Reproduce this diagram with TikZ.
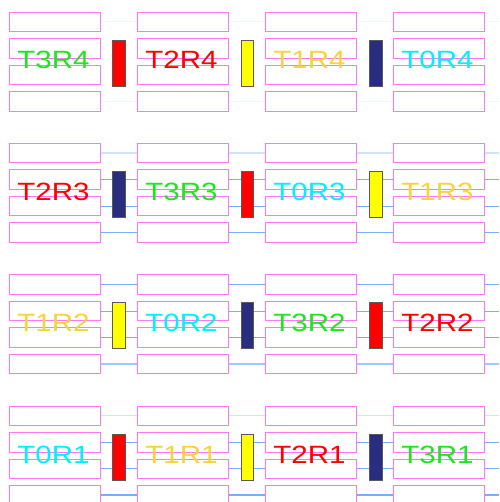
\documentclass[tikz,border=0pt]{standalone}
\usepackage{fontspec}
\setmainfont{Liberation Sans}
\usetikzlibrary{backgrounds}
\definecolor{tcol0}{RGB}{0,240,255}
\definecolor{tcol1}{RGB}{250,210,60}
\definecolor{tcol2}{RGB}{255,0,0}
\definecolor{tcol3}{RGB}{30,230,30}
\definecolor{barred}{RGB}{255,0,0}
\definecolor{baryellow}{RGB}{255,255,0}
\definecolor{barnavy}{RGB}{40,45,128}
\definecolor{slotpink}{RGB}{255,120,250}
\definecolor{linkblue}{RGB}{120,175,250}
\tikzset{
  slot/.style={draw=slotpink, fill=white, line width=0.9pt, minimum width=91pt,
    minimum height=19.5pt, inner sep=0pt},
  bar/.style={draw=black!65, line width=0.6pt, minimum width=12.5pt,
    minimum height=46pt, inner sep=0pt},
  lbl/.style={anchor=base, inner sep=0pt, font=\fontsize{25}{25}\selectfont},
  nolink/.style={draw=none},
  faint/.style={draw=linkblue!12, line width=1pt},
  light/.style={draw=linkblue!35, line width=1.2pt},
  mid/.style={draw=linkblue, line width=0.9pt},
  midlight/.style={draw=linkblue!70, line width=1.1pt},
  thick/.style={draw=linkblue, line width=1.6pt}
}
\begin{document}
\begin{tikzpicture}[x=1pt,y=-1pt]
\useasboundingbox (0,0) rectangle (499,502);

\foreach \r/\y/\order/\bars/\links in {
  4/12/{3,2,1,0}/{barred,baryellow,barnavy}/{faint,nolink,nolink,faint},
  3/143.3/{2,3,0,1}/{barnavy,barred,baryellow}/{light,mid,mid,mid},
  2/274.7/{1,0,3,2}/{baryellow,barnavy,barred}/{mid,mid,mid,midlight},
  1/406/{0,1,2,3}/{barred,baryellow,barnavy}/{light,mid,mid,thick}}
{
  % four slots per column, label on top
  \foreach \t [count=\c] in \order {
    \foreach \k in {1,...,4}
      \node[slot] (r\r-c\c-k\k) at ({54.5+128*(\c-1)}, {\y+9.75+26.5*(\k-1)}) {};
    \node[lbl, text=tcol\t] (t\t-r\r) at ({53.5+128*(\c-1)}, {\y+57})
      {\scalebox{1.18}[1]{T\t R\r}};
  }
  % bars between columns
  \foreach \b [count=\g] in \bars
    \node[bar, fill=\b] (bar\r-\g) at ({119+128.5*(\g-1)}, {\y+51}) {};
  % links behind
  \begin{scope}[on background layer]
    \foreach \s [count=\k] in \links {
      \coordinate (edge\r-\k) at (499, {\y+9.75+26.5*(\k-1)});
      \foreach \c [evaluate=\c as \n using int(\c+1)] in {1,2,3}
        \draw[\s] (r\r-c\c-k\k.east) -- (r\r-c\n-k\k.west);
      \draw[\s] (r\r-c4-k\k.east) -- (edge\r-\k);
    }
  \end{scope}
}
\end{tikzpicture}
\end{document}
